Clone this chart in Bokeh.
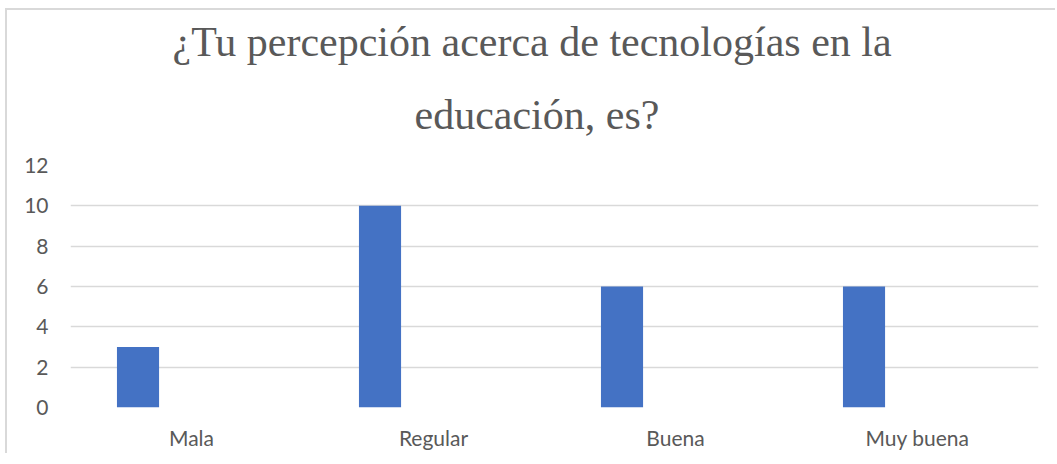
from bokeh.plotting import figure
from bokeh.models import Title, FactorRange, ColumnDataSource, Range1d, FixedTicker
from bokeh.transform import dodge
from bokeh.embed import file_html
from bokeh.resources import INLINE

categories = ["Mala", "Regular", "Buena", "Muy buena"]
values = [3, 10, 6, 6]
y_ticks = [0, 2, 4, 6, 8, 10, 12]
title_line1 = "¿Tu percepción acerca de tecnologías en la"
title_line2 = "educación, es?"

source = ColumnDataSource(data=dict(cat=categories, val=values))

p = figure(
    x_range=FactorRange(factors=categories, range_padding=0),
    y_range=Range1d(0, 12),
    width=1050, height=445,
    output_backend="svg", toolbar_location=None,
    min_border_left=63, min_border_right=19,
    min_border_top=0, min_border_bottom=57,
)
p.styles = {"margin-left": "5px", "margin-top": "8px", "padding-top": "9px",
            "background-color": "white",
            "border-left": "2px solid #d9d9d9", "border-top": "2px solid #d9d9d9"}

t2 = Title(text=title_line2, align="left", text_font="Liberation Serif",
           text_font_size="42px", text_font_style="normal", text_color="#595959",
           text_line_height=1.0, standoff=55, offset=344)
t1 = Title(text=title_line1, align="left", text_font="Liberation Serif",
           text_font_size="42px", text_font_style="normal", text_color="#595959",
           text_line_height=1.7, standoff=-5, offset=102)
p.add_layout(t2, "above")
p.add_layout(t1, "above")

p.vbar(x=dodge("cat", -0.221, range=p.x_range), top="val", width=0.174,
       bottom=0, source=source, fill_color="#4472C4", line_color=None)

p.outline_line_color = None
p.xgrid.grid_line_color = None
p.ygrid.grid_line_color = "#d9d9d9"
p.ygrid.grid_line_width = 1.5
p.yaxis.ticker = FixedTicker(ticks=y_ticks)

for ax in (p.xaxis, p.yaxis):
    ax.axis_line_color = None
    ax.major_tick_line_color = None
    ax.minor_tick_line_color = None
    ax.major_label_text_font = "Lato"
    ax.major_label_text_font_size = "21px"
    ax.major_label_text_color = "#595959"

p.yaxis.major_label_standoff = 16
p.xaxis.major_label_standoff = 11

open("out.html", "w").write(file_html(p, INLINE))
